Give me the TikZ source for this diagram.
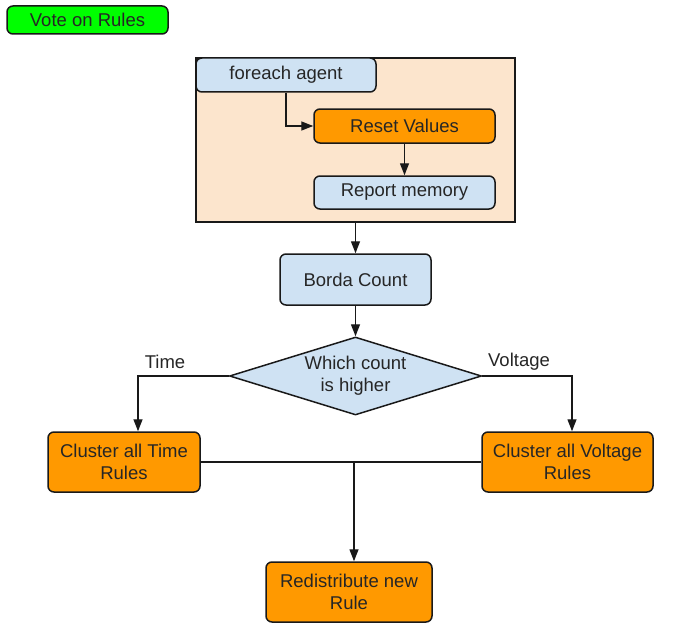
\documentclass[tikz,border=0pt]{standalone}
\usepackage{fontspec}
\setmainfont{Liberation Sans}
\usetikzlibrary{arrows.meta,shapes.geometric}
\definecolor{lblue}{HTML}{CFE2F3}
\definecolor{orng}{HTML}{FF9900}
\definecolor{peach}{HTML}{FCE5CD}
\definecolor{vgreen}{HTML}{00FF00}
\begin{document}
\begin{tikzpicture}[x=1pt,y=-1pt,
  every node/.style={font=\fontsize{18.5}{22}\selectfont, text=black!85},
  box/.style={draw=black!90, line width=1.5pt, rounded corners=6pt, align=center, inner sep=0pt},
  conn/.style={draw=black!90, line width=1.4pt},
  arr/.style={conn, -{Triangle[length=12pt,width=9pt]}}]
\useasboundingbox (0,0) rectangle (675,634);
% container
\node[draw=black!90, line width=1.5pt, fill=peach, minimum width=319pt, minimum height=164pt, inner sep=0pt] (cont) at (355.5,140) {};
\node[box, fill=vgreen, minimum width=161pt, minimum height=28pt] (vote) at (87.5,20) {Vote on Rules};
\node[box, fill=lblue, minimum width=180pt, minimum height=34pt] (fe) at (286,75) {foreach agent};
\node[box, fill=orng, minimum width=181pt, minimum height=34pt] (reset) at (404.5,126) {Reset Values};
\node[box, fill=lblue, minimum width=181pt, minimum height=33pt] (report) at (404.5,192.5) {Report memory};
\node[box, fill=lblue, minimum width=151pt, minimum height=51pt] (borda) at (355.5,279.5) {Borda Count};
\node[draw=black!90, line width=1.5pt, fill=lblue, diamond, aspect=3.23, minimum width=252pt, minimum height=78pt, inner sep=0pt, align=center] (dec) at (355.5,376) {Which count\\is higher};
\node[box, fill=orng, minimum width=152pt, minimum height=60pt] (ctime) at (124,462) {Cluster all Time\\Rules};
\node[box, fill=orng, minimum width=171pt, minimum height=60pt] (cvolt) at (567.5,462) {Cluster all Voltage\\Rules};
\node[box, fill=orng, minimum width=166pt, minimum height=60pt] (redis) at (349,592) {Redistribute new\\Rule};
\node (tlab) at (165,362) {Time};
\node (vlab) at (519,362) {Voltage};
\coordinate (tc) at (138,376);
\coordinate (vc) at (572,376);
\coordinate (mid) at (354,462);
% connectors
\draw[arr] (fe.south) |- (reset.west);
\draw[arr] (reset.south) -- (report.north);
\draw[arr] (cont.south) -- (borda.north);
\draw[arr] (borda.south) -- (dec.north);
\draw[arr] (dec.west) -- (tc) -- (ctime.north -| tc);
\draw[arr] (dec.east) -- (vc) -- (cvolt.north -| vc);
\draw[conn] (ctime.east) -- (cvolt.west);
\draw[arr] (mid) -- (redis.north -| mid);
\end{tikzpicture}
\end{document}
